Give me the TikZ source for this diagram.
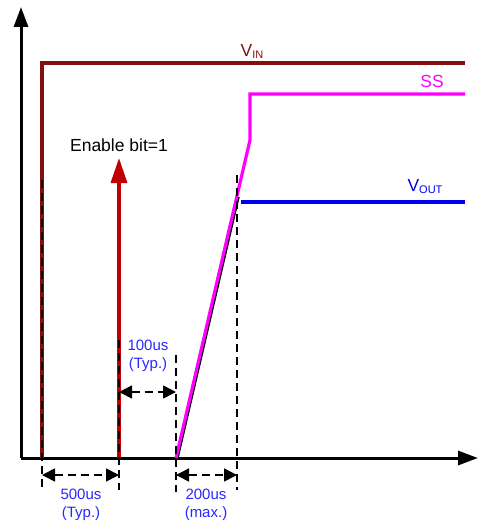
\documentclass[tikz,border=0pt]{standalone}
\usepackage{fontspec}
\setmainfont{Liberation Sans}
\usetikzlibrary{arrows.meta}
\definecolor{vinred}{RGB}{130,16,16}
\definecolor{enred}{RGB}{192,0,0}
\definecolor{sspink}{RGB}{255,0,255}
\definecolor{voutblue}{RGB}{0,0,240}
\definecolor{lblblue}{RGB}{40,40,255}

\begin{document}
\begin{tikzpicture}[x=1pt, y=-1pt,
    axis/.style={line width=3pt, -{Triangle[length=20pt, width=14pt]}},
    sig/.style={line width=3.2pt},
    guide/.style={black, line width=1.6pt, dash pattern=on 8pt off 5pt},
    dim/.style={guide, {Triangle[length=13pt, width=13pt]}-{Triangle[length=13pt, width=13pt]}},
    dimlabel/.style={text=lblblue, align=center, font=\fontsize{15}{18}\selectfont},
    siglabel/.style={font=\fontsize{17.5}{17.5}\selectfont}
]
    \useasboundingbox (0,0) rectangle (478,524);

    % Axes
    \coordinate (origin) at (21,458);
    \coordinate (ytop) at (21,7);
    \coordinate (xend) at (478,458);
    \draw[axis] (origin) -- (ytop);
    \draw[axis] (origin) -- (xend);

    % Time marks
    \coordinate (tvin) at (42,458);
    \coordinate (ten) at (119,458);
    \coordinate (tss) at (176,458);
    \coordinate (tout) at (237,458);

    % VIN
    \coordinate (vincorner) at (42,63);
    \coordinate (vinend) at (465,63);
    \draw[sig, vinred] (tvin) -- (vincorner) -- (vinend);
    \node[siglabel, text=vinred] (vinlabel) at (252,51)
        {V{\fontsize{11}{11}\selectfont\raisebox{-2pt}{IN}}};

    % Enable bit
    \coordinate (enabletop) at (119,158);
    \draw[sig, enred, -{Triangle[length=25pt, width=16pt]}] (ten) -- (enabletop);
    \node[siglabel] (enablelabel) at (119,145) {Enable bit=1};

    % SS ramp
    \coordinate (sskink) at (250,140);
    \coordinate (sstop) at (250,94);
    \coordinate (ssend) at (465,94);
    \coordinate (rampend) at (238.5,197);
    \coordinate (rampstart) at (177.5,458);
    \draw[line width=2.4pt, black] (rampstart) -- (rampend);
    \draw[sig, sspink] (tss) -- (sskink) -- (sstop) -- (ssend);
    \node[siglabel, text=sspink] (sslabel) at (432,81) {SS};

    % VOUT
    \coordinate (voutstart) at (241,202);
    \coordinate (voutend) at (465,202);
    \draw[sig, voutblue] (voutstart) -- (voutend);
    \node[siglabel, text=voutblue] (voutlabel) at (425,187)
        {V{\fontsize{11}{11}\selectfont\raisebox{-2pt}{OUT}}};

    % Guide lines
    \coordinate (gvintop) at (42,180);
    \coordinate (gvinbot) at (42,490);
    \coordinate (gentop) at (119,340);
    \coordinate (genbot) at (119,490);
    \coordinate (gsstop) at (176,355);
    \coordinate (gssbot) at (176,492);
    \coordinate (gouttop) at (237,175);
    \coordinate (goutbot) at (237,490);
    \draw[guide] (gvintop) -- (gvinbot);
    \draw[guide] (gentop) -- (genbot);
    \draw[guide] (gsstop) -- (gssbot);
    \draw[guide] (gouttop) -- (goutbot);

    % Timing arrows
    \coordinate (d1a) at (42,475);
    \coordinate (d1b) at (119,475);
    \coordinate (d2a) at (119,392);
    \coordinate (d2b) at (176,392);
    \coordinate (d3a) at (176,475);
    \coordinate (d3b) at (237,475);
    \draw[dim] (d1a) -- (d1b);
    \draw[dim] (d2a) -- (d2b);
    \draw[dim] (d3a) -- (d3b);

    % Timing labels
    \node[dimlabel] (lbl500) at (81,505) {500us\\(Typ.)};
    \node[dimlabel] (lbl100) at (148,356) {100us\\(Typ.)};
    \node[dimlabel] (lbl200) at (206,505) {200us\\(max.)};
\end{tikzpicture}
\end{document}
